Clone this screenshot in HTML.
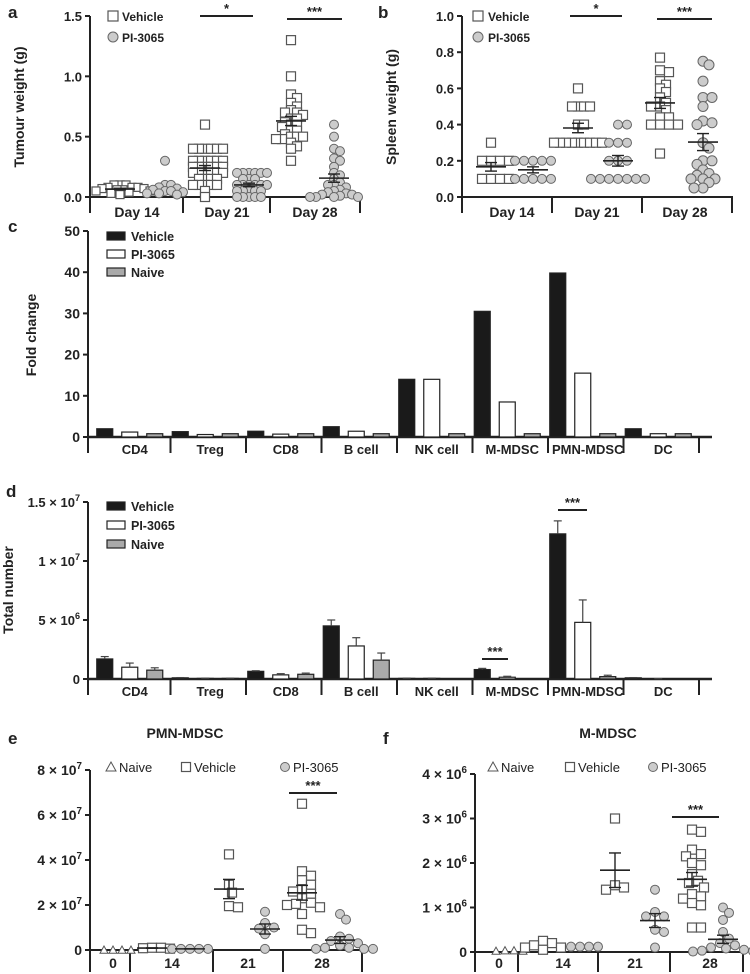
<!DOCTYPE html>
<html><head><meta charset="utf-8"><style>
body{margin:0;background:#fff}
svg{display:block;font-family:"Liberation Sans",Arial,sans-serif}
</style></head><body>
<svg id="fig" width="750" height="974" viewBox="0 0 750 974"></svg>
<script>
// ---------- data ----------
const dayCats=["Day 14","Day 21","Day 28"];
const aVeh14=[0.1,0.1,0.1,0.08,0.08,0.07,0.07,0.06,0.05,0.05,0.04,0.03,0.02,0.08,0.06];
const aPI14=[0.3,0.1,0.1,0.08,0.07,0.06,0.05,0.05,0.04,0.03,0.03,0.02];
const aVeh21=[0.6,0.4,0.4,0.4,0.4,0.4,0.4,0.3,0.3,0.3,0.3,0.3,0.3,0.25,0.25,0.25,0.25,0.25,0.25,0.2,0.2,0.2,0.2,0.2,0.2,0.15,0.15,0.15,0.15,0.1,0.1,0.1,0.1,0.1,0.05,0.0];
const aPI21=[0.2,0.2,0.2,0.2,0.2,0.2,0.15,0.15,0.15,0.1,0.1,0.1,0.1,0.1,0.1,0.05,0.05,0.05,0.05,0.05,0,0,0,0,0];
const aVeh28=[1.3,1.0,0.85,0.82,0.78,0.75,0.72,0.7,0.7,0.68,0.65,0.65,0.62,0.6,0.6,0.58,0.55,0.55,0.52,0.5,0.5,0.5,0.48,0.48,0.45,0.42,0.4,0.3];
const aPI28=[0.6,0.5,0.4,0.38,0.32,0.3,0.25,0.2,0.18,0.15,0.12,0.1,0.1,0.08,0.06,0.05,0.04,0.03,0.02,0.02,0.01,0,0,0,0];
const aTicks=["0.0","0.5","1.0","1.5"];
const bVeh14=[0.3,0.2,0.2,0.2,0.2,0.1,0.1,0.1,0.1];
const bPI14=[0.2,0.2,0.2,0.2,0.2,0.1,0.1,0.1,0.1,0.1];
const bVeh21=[0.6,0.5,0.5,0.5,0.5,0.4,0.4,0.3,0.3,0.3,0.3,0.3,0.3,0.3,0.3,0.3];
const bPI21=[0.4,0.4,0.3,0.3,0.3,0.2,0.2,0.2,0.1,0.1,0.1,0.1,0.1,0.1,0.1];
const bVeh28=[0.77,0.7,0.69,0.64,0.62,0.6,0.58,0.55,0.52,0.5,0.5,0.48,0.44,0.44,0.4,0.4,0.4,0.4,0.24];
const bPI28=[0.75,0.73,0.64,0.55,0.55,0.5,0.42,0.41,0.4,0.3,0.27,0.2,0.2,0.18,0.15,0.13,0.12,0.1,0.1,0.1,0.08,0.05,0.05];
const bTicks=["0.0","0.2","0.4","0.6","0.8","1.0"];
const cellCats=["CD4","Treg","CD8","B cell","NK cell","M-MDSC","PMN-MDSC","DC"];
const cVeh=[2,1.3,1.4,2.5,14,30.5,39.8,2];
const cPI=[1.2,0.6,0.7,1.4,14,8.5,15.5,0.8];
const cNaive=[0.8,0.8,0.8,0.8,0.8,0.8,0.8,0.8];
const cTicks=[0,10,20,30,40,50];
const dVeh=[1.7,0.1,0.65,4.5,0.05,0.8,12.3,0.1];
const dVehErr=[0.2,0.02,0.05,0.5,0.02,0.1,1.1,0.02];
const dPI=[1.0,0.05,0.35,2.8,0.05,0.15,4.8,0.02];
const dPIErr=[0.35,0.02,0.1,0.7,0.02,0.08,1.9,0.01];
const dNaive=[0.75,0.05,0.4,1.6,0,0,0.2,0];
const dNaiveErr=[0.2,0.02,0.1,0.6,0,0,0.12,0];
const dTickVals=[0,5,10,15];
const eCats=["0","14","21","28"];
const eNaive0=[0,0,0,0];
const eVeh14=[0.1,0.1,0.08,0.06];
const ePI14=[0.05,0.05,0.05,0.05,0.05];
const eVeh21=[4.25,2.9,2.55,1.95,1.9];
const ePI21=[1.7,1.2,1.0,0.95,0.7,0.05];
const eVeh28=[6.5,3.5,3.3,3.1,2.9,2.7,2.6,2.5,2.3,2.1,2.05,2.0,1.9,1.6,0.9,0.75];
const ePI28=[1.6,1.35,0.6,0.5,0.4,0.3,0.2,0.1,0.1,0.05,0.05,0.05];
const fNaive0=[0.03,0.03,0.02,0.02];
const fVeh14=[0.25,0.2,0.15,0.1,0.1,0.05];
const fPI14=[0.12,0.12,0.12,0.12];
const fVeh21=[3.0,1.5,1.45,1.4];
const fPI21=[1.4,0.9,0.8,0.8,0.5,0.45,0.1];
const fVeh28=[2.75,2.7,2.3,2.2,2.15,2.0,1.95,1.75,1.6,1.55,1.45,1.3,1.25,1.2,1.1,1.05,0.55,0.55];
const fPI28=[1.0,0.88,0.72,0.45,0.3,0.2,0.15,0.1,0.08,0.05,0.03,0.02,0.01,0.01];

// ---------- helpers ----------
const NS='http://www.w3.org/2000/svg';
const svg=document.getElementById('fig');
function mk(tag,attrs,name,parent){
  const e=document.createElementNS(NS,tag);
  for(const k in attrs)e.setAttribute(k,attrs[k]);
  
  
  (parent||svg).appendChild(e);return e;
}
function txt(x,y,s,name,o){
  o=o||{};
  const t=mk('text',{x:x,y:y,'font-size':o.fs||13,'font-weight':o.fw||'bold','text-anchor':o.anchor||'middle',fill:'#222'},name);
  if(o.family)t.setAttribute('font-family',o.family);
  if(o.rot)t.setAttribute('transform','rotate(-90 '+x+' '+y+')');
  t.textContent=s;return t;
}
function sci(x,y,mant,exp,name,fs,family){
  const t=mk('text',{x:x,y:y,'font-size':fs,'font-weight':'bold','text-anchor':'end',fill:'#222'},name);
  if(family)t.setAttribute('font-family',family);
  if(mant===null){t.textContent='0';return t;}
  t.appendChild(document.createTextNode(mant+' \u00d7 10'));
  const s=document.createElementNS(NS,'tspan');s.setAttribute('dy','-6');s.setAttribute('font-size',fs*0.7);s.textContent=exp;t.appendChild(s);
  return t;
}
function line(x1,y1,x2,y2,name,w,c){return mk('line',{x1:x1,y1:y1,x2:x2,y2:y2,stroke:c||'#222','stroke-width':w||2},name);}
function marker(shape,x,y,s,name){
  if(shape==='sq')return mk('rect',{x:x-s/2,y:y-s/2,width:s,height:s,fill:'#fff',stroke:'#555','stroke-width':1.2},name);
  if(shape==='ci')return mk('circle',{cx:x,cy:y,r:s/2,fill:'#ccc',stroke:'#666','stroke-width':1},name);
  return mk('path',{d:'M'+(x-s/2)+' '+(y+s/2.5)+'L'+x+' '+(y-s/2)+'L'+(x+s/2)+' '+(y+s/2.5)+'Z',fill:'#fff',stroke:'#555','stroke-width':1},name);
}
function swarm(vals,cx,ys,shape,s,minD,name,showMean){
  const placed=[];
  const sorted=vals.slice().sort((a,b)=>b-a);
  sorted.forEach(v=>{
    const y=ys(v);let x=cx;
    for(let i=0;i<60;i++){
      const off=(i%2?1:-1)*Math.ceil(i/2)*3;x=cx+off;
      if(!placed.some(p=>Math.hypot(p[0]-x,p[1]-y)<minD))break;
    }
    placed.push([x,y]);marker(shape,x,y,s,name+'-point');
  });
  if(showMean){
    const n=vals.length,m=vals.reduce((a,b)=>a+b,0)/n;
    const sd=Math.sqrt(vals.reduce((a,b)=>a+(b-m)*(b-m),0)/(n-1||1));const se=sd/Math.sqrt(n);
    line(cx-15,ys(m),cx+15,ys(m),name+'-mean',1.6);
    line(cx,ys(m+se),cx,ys(m-se),name+'-sem',1.4);
    line(cx-6,ys(m+se),cx+6,ys(m+se),name+'-sem-cap',1.4);
    line(cx-6,ys(m-se),cx+6,ys(m-se),name+'-sem-cap',1.4);
  }
}
function sig(x1,x2,y,stars,name){line(x1,y,x2,y,name+'-line',2);txt((x1+x2)/2,y-3,stars,name+'-stars',{fs:13});}

// ---------- panel a ----------
(function(){
  const ax=90,y0=197,yTop=16,max=1.5;const ys=v=>y0-(v/max)*(y0-yTop);
  txt(8,18,'a','panel-label-a',{fs:17,anchor:'start'});
  line(ax,yTop,ax,213,'a-y-axis',2);line(ax,y0,362,y0,'a-x-axis',2);
  aTicks.forEach(t=>{const y=ys(+t);line(ax-5,y,ax,y,'a-y-tick',2);txt(ax-8,y+5,t,'a-y-tick-label',{fs:13,anchor:'end'});});
  [183,270,360].forEach(x=>line(x,y0,x,213,'a-category-divider',2));
  [137,227,315].forEach((x,i)=>txt(x,217,dayCats[i],'a-x-label',{fs:14}));
  txt(24,107,'Tumour weight (g)','a-y-axis-title',{fs:14,rot:1});
  marker('sq',113,16,10,'a-legend-vehicle-marker');txt(122,21,'Vehicle','a-legend-vehicle',{fs:12,anchor:'start'});
  marker('ci',113,37,10,'a-legend-pi-marker');txt(122,42,'PI-3065','a-legend-pi',{fs:12,anchor:'start'});
  swarm(aVeh14,120,ys,'sq',8,5,'a-day14-vehicle',1);
  swarm(aPI14,165,ys,'ci',9,6,'a-day14-pi',0);
  swarm(aVeh21,205,ys,'sq',9,5,'a-day21-vehicle',1);
  swarm(aPI21,249,ys,'ci',9,6,'a-day21-pi',1);
  swarm(aVeh28,291,ys,'sq',9,5,'a-day28-vehicle',1);
  swarm(aPI28,334,ys,'ci',9,6,'a-day28-pi',1);
  sig(200,253,16,'*','a-sig-day21');sig(287,342,19,'***','a-sig-day28');
})();
// ---------- panel b ----------
(function(){
  const ax=462,y0=197,yTop=16,max=1.0;const ys=v=>y0-(v/max)*(y0-yTop);
  txt(378,18,'b','panel-label-b',{fs:17,anchor:'start'});
  line(ax,yTop,ax,213,'b-y-axis',2);line(ax,y0,733,y0,'b-x-axis',2);
  bTicks.forEach(t=>{const y=ys(+t);line(ax-5,y,ax,y,'b-y-tick',2);txt(ax-8,y+5,t,'b-y-tick-label',{fs:13,anchor:'end'});});
  [552,642,732].forEach(x=>line(x,y0,x,213,'b-category-divider',2));
  [512,597,685].forEach((x,i)=>txt(x,217,dayCats[i],'b-x-label',{fs:14}));
  txt(396,107,'Spleen weight (g)','b-y-axis-title',{fs:14,rot:1});
  marker('sq',478,16,10,'b-legend-vehicle-marker');txt(488,21,'Vehicle','b-legend-vehicle',{fs:12,anchor:'start'});
  marker('ci',478,37,10,'b-legend-pi-marker');txt(488,42,'PI-3065','b-legend-pi',{fs:12,anchor:'start'});
  swarm(bVeh14,491,ys,'sq',9,7,'b-day14-vehicle',1);
  swarm(bPI14,533,ys,'ci',9,8,'b-day14-pi',1);
  swarm(bVeh21,578,ys,'sq',9,4,'b-day21-vehicle',1);
  swarm(bPI21,618,ys,'ci',9,8,'b-day21-pi',1);
  swarm(bVeh28,660,ys,'sq',9,7,'b-day28-vehicle',1);
  swarm(bPI28,703,ys,'ci',10,7,'b-day28-pi',1);
  sig(570,622,16,'*','b-sig-day21');sig(657,712,19,'***','b-sig-day28');
})();
// ---------- bar panels ----------
const narrow='"Liberation Sans Narrow","Liberation Sans",sans-serif';
const bnd=[95,170.5,246,321.5,397,472.5,548,623.5,699];
function barPanel(p,ys,y0,yTop,veh,pi,nv,errs,legY){
  line(88,yTop,88,y0+16,p+'-y-axis',2);line(88,y0,712,y0,p+'-x-axis',2.5);
  bnd.slice(1).forEach(x=>line(x,y0,x,y0+16,p+'-category-divider',2));
  cellCats.forEach((c,i)=>{
    const cx=(bnd[i]+bnd[i+1])/2;
    txt(cx+2,y0+17,c,p+'-x-label',{fs:13});
    [[veh,'#1a1a1a','vehicle'],[pi,'#fff','pi'],[nv,'#aaa','naive']].forEach((s,j)=>{
      const v=s[0][i],x=cx-28+j*25-8,y=ys(v);
      mk('rect',{x:x,y:y,width:16,height:Math.max(0,y0-y),fill:s[1],stroke:'#222','stroke-width':1.2},p+'-bar-'+s[2]);
      if(errs&&errs[j][i]>0){const ye=ys(v+errs[j][i]);line(x+8,y,x+8,ye,p+'-error-bar',1.2,'#444');line(x+4,ye,x+12,ye,p+'-error-cap',1.2,'#444');}
    });
  });
  [['Vehicle','#1a1a1a'],['PI-3065','#fff'],['Naive','#aaa']].forEach((l,j)=>{
    const y=legY[j];
    mk('rect',{x:107,y:y-4,width:18,height:8,fill:l[1],stroke:'#222','stroke-width':1.2},p+'-legend-swatch');
    txt(131,y+5,l[0],p+'-legend-'+l[0].toLowerCase(),{fs:12.5,anchor:'start',family:narrow});
  });
}
(function(){
  const y0=437,yTop=231,ys=v=>y0-(v/50)*(y0-yTop);
  txt(8,232,'c','panel-label-c',{fs:17,anchor:'start'});
  cTicks.forEach(t=>{const y=ys(t);line(83,y,88,y,'c-y-tick',2);txt(80,y+5,String(t),'c-y-tick-label',{fs:14,anchor:'end',family:narrow});});
  txt(36,335,'Fold change','c-y-axis-title',{fs:14,rot:1});
  barPanel('c',ys,y0,yTop,cVeh,cPI,cNaive,null,[236,254,272]);
})();
(function(){
  const y0=679,yTop=502,ys=v=>y0-(v/15)*(y0-yTop);
  txt(6,497,'d','panel-label-d',{fs:17,anchor:'start'});
  dTickVals.forEach(t=>{const y=ys(t);line(83,y,88,y,'d-y-tick',2);
    if(t===0)sci(80,y+5,null,'','d-y-tick-label',13,narrow);
    else if(t===5)sci(80,y+5,'5','6','d-y-tick-label',13,narrow);
    else sci(80,y+5,String(t/10),'7','d-y-tick-label',13,narrow);});
  txt(13,590,'Total number','d-y-axis-title',{fs:14,rot:1});
  barPanel('d',ys,y0,yTop,dVeh,dPI,dNaive,[dVehErr,dPIErr,dNaiveErr],[506,525,544]);
  sig(482,508,659,'***','d-sig-mmdsc');sig(558,587,510,'***','d-sig-pmn');
})();
// ---------- scatter panels e/f ----------
function timePanel(p,ax,y0,yTop,max,exp,divs,labX,title,titleX,groups,sigX,sigY,legX){
  const ys=v=>y0-(v/max)*(y0-yTop);
  line(ax,yTop,ax,972,p+'-y-axis',2);line(ax,y0,divs[divs.length-1],y0,p+'-x-axis',2);
  divs.forEach(x=>line(x,y0,x,972,p+'-category-divider',2));
  labX.forEach((x,i)=>txt(x,968,eCats[i],p+'-x-label',{fs:14}));
  for(let i=0;i<=4;i++){const y=ys(i*max/4);line(ax-5,y,ax,y,p+'-y-tick',2);
    sci(ax-8,y+5,i===0?null:String(i*max/4),String(exp),p+'-y-tick-label',14);}
  txt(titleX,738,title,p+'-title',{fs:14});
  marker('tri',legX[0],767,10,p+'-legend-naive-marker');txt(legX[0]+8,772,'Naive',p+'-legend-naive',{fs:13,fw:'normal',anchor:'start'});
  marker('sq',legX[1],767,9,p+'-legend-vehicle-marker');txt(legX[1]+8,772,'Vehicle',p+'-legend-vehicle',{fs:13,fw:'normal',anchor:'start'});
  marker('ci',legX[2],767,9,p+'-legend-pi-marker');txt(legX[2]+8,772,'PI-3065',p+'-legend-pi',{fs:13,fw:'normal',anchor:'start'});
  groups.forEach(g=>swarm(g[0],g[1],ys,g[2],g[3],8,p+'-'+g[4],g[5]));
  sig(sigX[0],sigX[1],sigY,'***',p+'-sig-day28');
}
txt(8,744,'e','panel-label-e',{fs:17,anchor:'start'});
timePanel('e',90,950,770,8,7,[130,213,283,362],[113,172,248,322],'PMN-MDSC',185,
 [[eNaive0,113,'tri',8,'day0-naive',0],[eVeh14,152,'sq',9,'day14-vehicle',1],[ePI14,190,'ci',9,'day14-pi',1],
  [eVeh21,229,'sq',9,'day21-vehicle',1],[ePI21,265,'ci',9,'day21-pi',1],[eVeh28,302,'sq',9,'day28-vehicle',1],[ePI28,340,'ci',9,'day28-pi',1]],
 [289,337],793,[111,186,285]);
txt(383,744,'f','panel-label-f',{fs:17,anchor:'start'});
timePanel('f',475,952,774,4,6,[518,598,670,743],[499,563,635,710],'M-MDSC',608,
 [[fNaive0,505,'tri',8,'day0-naive',0],[fVeh14,543,'sq',9,'day14-vehicle',0],[fPI14,580,'ci',9,'day14-pi',0],
  [fVeh21,615,'sq',9,'day21-vehicle',1],[fPI21,655,'ci',9,'day21-pi',1],[fVeh28,692,'sq',9,'day28-vehicle',1],[fPI28,723,'ci',9,'day28-pi',1]],
 [672,719],817,[493,570,653]);
</script>
</body></html>
